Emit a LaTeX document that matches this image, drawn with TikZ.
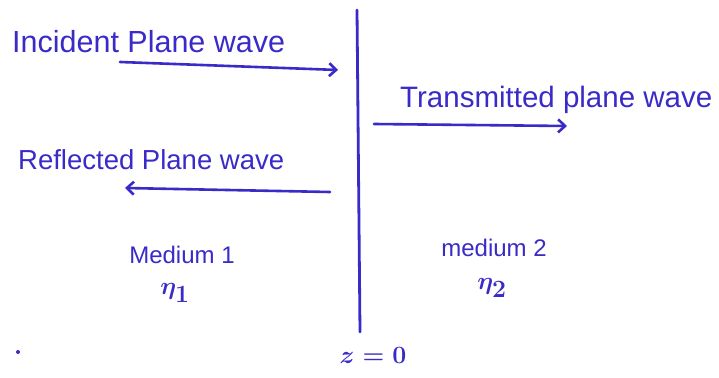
\documentclass[tikz,border=0pt]{standalone}
\usepackage{fontspec}
\setmainfont{Liberation Sans}
\usetikzlibrary{arrows.meta}
\definecolor{ink}{RGB}{58,42,200}
\begin{document}
\begin{tikzpicture}[x=1pt,y=-1pt,
  lbl/.style={text=ink,font=\fontsize{28}{30}\selectfont,inner sep=0pt},
  med/.style={text=ink,font=\fontsize{24}{26}\selectfont,inner sep=0pt},
  sym/.style={text=ink,font=\fontsize{38}{40}\selectfont\boldmath,inner sep=0pt},
  wave/.style={draw=ink,line width=2.6pt,line cap=round,-{Straight Barb[length=7pt,width=13pt,line width=2.6pt]}},
  iface/.style={draw=ink,line width=2.8pt,line cap=round}]
\useasboundingbox[fill=white] (0,0) rectangle (719,377);
% interface
\coordinate (top) at (357,10);
\coordinate (bot) at (360,332);
\draw[iface] (top) -- (bot);
% labels
\node[lbl,anchor=west,font=\fontsize{30.5}{32}\selectfont] (inc) at (12,42) {Incident Plane wave};
\node[lbl,anchor=west,font=\fontsize{29.5}{31}\selectfont] (tra) at (400,100) {Transmitted plane wave};
\node[lbl,anchor=west,font=\fontsize{27.5}{29}\selectfont] (ref) at (18,160) {Reflected Plane wave};
\node[med] (m1) at (182,255) {Medium 1};
\node[med] (m2) at (494,248) {medium 2};
\node[sym] (e1) at (175,293) {$\eta_1$};
\node[sym] (e2) at (492,288) {$\eta_2$};
\node[text=ink,font=\fontsize{26}{28}\selectfont\boldmath,inner sep=0pt] (z0) at (373,355) {$z=0$};
% arrows
\coordinate (ia) at (120,62);
\coordinate (ib) at (338,70);
\draw[wave] (ia) -- (ib);
\coordinate (ta) at (374,124);
\coordinate (tb) at (567,126);
\draw[wave] (ta) -- (tb);
\coordinate (ra) at (330,192);
\coordinate (rb) at (125,188);
\draw[wave] (ra) -- (rb);
% stray dot
\coordinate (dot) at (18,352);
\fill[ink] (dot) circle (2pt);
\end{tikzpicture}
\end{document}
